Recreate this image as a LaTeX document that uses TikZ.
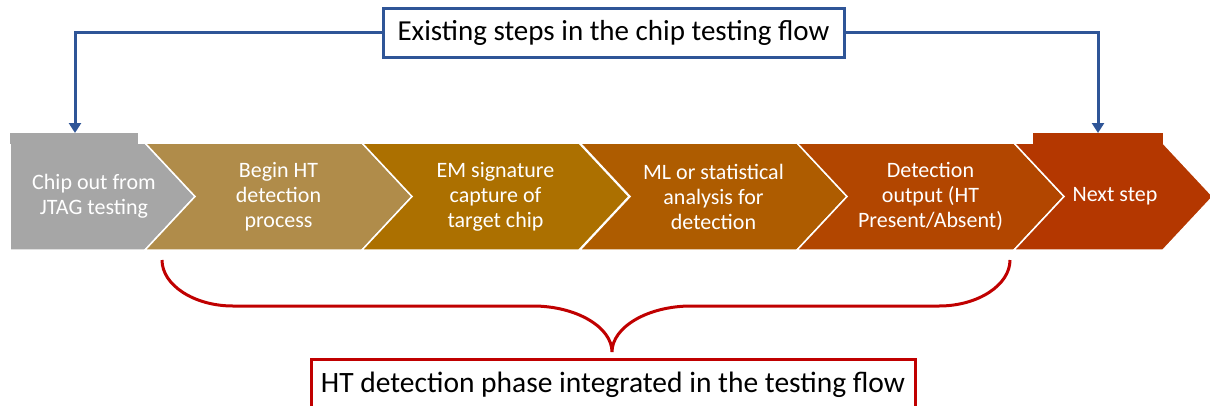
\documentclass[tikz,border=0pt]{standalone}
\usepackage{fontspec}
\setmainfont{Carlito}
\usetikzlibrary{arrows.meta}

\definecolor{flowgray}{HTML}{A6A6A6}
\definecolor{flowtan}{HTML}{B08C4A}
\definecolor{flowochre}{HTML}{AC7000}
\definecolor{flowamber}{HTML}{AE5C00}
\definecolor{flowrust}{HTML}{B24600}
\definecolor{flowred}{HTML}{B43700}
\definecolor{linkblue}{HTML}{2F5597}
\definecolor{bracered}{HTML}{C00000}

\providecommand*{\bandTop}{}
\providecommand*{\bandBot}{}
\providecommand*{\bandMid}{}
\providecommand*{\chevW}{}
\providecommand*{\chevTip}{}
\renewcommand*{\bandTop}{143}
\renewcommand*{\bandBot}{250}
\renewcommand*{\bandMid}{196.5}
\renewcommand*{\chevW}{217}
\renewcommand*{\chevTip}{50}

\begin{document}
\begin{tikzpicture}[x=1pt,y=-1pt,
    steptext/.style={text=white,align=center,font=\fontsize{22}{25}\selectfont},
    labelbox/.style={draw,line width=3pt,fill=white,inner sep=0pt,font=\fontsize{29}{34}\selectfont},
    link/.style={linkblue,line width=3pt,-{Triangle[width=12pt,length=10pt]}},
    chevfill/.style={fill=#1,draw=white,line width=1.5pt}]
  \useasboundingbox (0,0) rectangle (1210,405);

  % first and last steps of the flow
  \path[chevfill=flowgray] (10,\bandTop) -- (145,\bandTop) -- (195,\bandMid)
    -- (145,\bandBot) -- (10,\bandBot) -- cycle;
  \foreach \xL/\col/\nm/\txt in {145/flowtan/begin/{Begin HT\\detection\\process},
      362/flowochre/capture/{EM signature\\capture of\\target chip},
      580/flowamber/analysis/{ML or statistical\\analysis for\\detection},
      797/flowrust/output/{Detection\\output (HT\\Present/Absent)}} {
    \path[chevfill=\col] (\xL,\bandTop) -- ++(\chevW,0) -- ++(\chevTip,53.5)
      -- ++(-\chevTip,53.5) -- ++(-\chevW,0) -- ++(\chevTip,-53.5) -- cycle;
    \node[steptext] (\nm) at (\xL+133.5,\bandMid) {\txt};
  }
  \path[chevfill=flowred] (1014,\bandTop) -- (1163,\bandTop) -- (1213,\bandMid)
    -- (1163,\bandBot) -- (1014,\bandBot) -- (1064,\bandMid) -- cycle;
  \fill[flowgray] (10,133) rectangle (138,144);
  \fill[flowred] (1033,133) rectangle (1163,144);
  \node[steptext] (chip) at (94,\bandMid) {Chip out from\\JTAG testing};
  \node[steptext] (next) at (1115,\bandMid) {Next step};

  % existing steps
  \coordinate (chipin) at (75,133);
  \coordinate (nextin) at (1098,133);
  \node[labelbox,draw=linkblue,minimum width=461pt,minimum height=49pt] (existing)
    at (613.5,32.5) {Existing steps in the chip testing flow};
  \draw[link] (existing.west) -| (chipin);
  \draw[link] (existing.east) -| (nextin);

  % HT detection phase
  \coordinate (braceL) at (162,260);
  \coordinate (braceR) at (1010,260);
  \coordinate (braceTip) at (612,352);
  \draw[bracered,line width=3pt] (braceL) .. controls (162,285) and (194,306) .. (233,306)
    -- (533,306) .. controls (576,306) and (612,327) .. (braceTip)
    .. controls (612,327) and (648,306) .. (691,306)
    -- (939,306) .. controls (978,306) and (1010,285) .. (braceR);
  \node[labelbox,draw=bracered,minimum width=604pt,minimum height=52pt,
    font=\fontsize{29.5}{34}\selectfont] (phase)
    at (613,385) {HT detection phase integrated in the testing flow};
\end{tikzpicture}
\end{document}
